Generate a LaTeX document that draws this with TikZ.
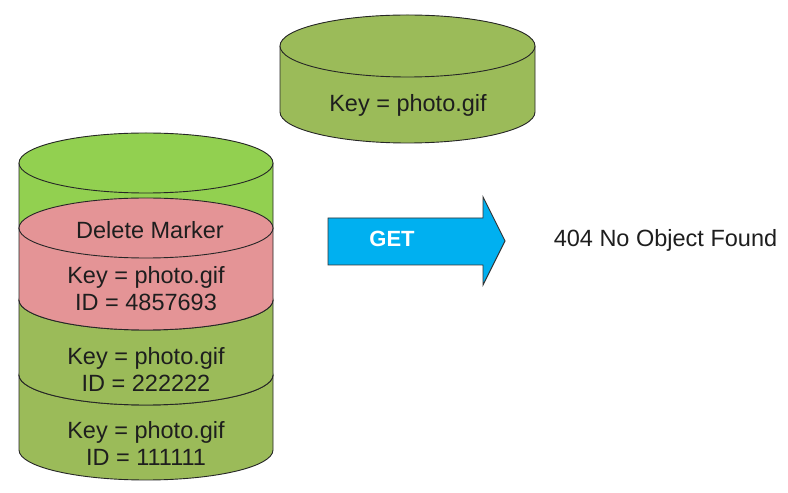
\documentclass[tikz,border=0pt]{standalone}
\usepackage{fontspec}
\setmainfont{Liberation Sans}
\definecolor{olive}{RGB}{155,187,89}
\definecolor{lgreen}{RGB}{146,208,80}
\definecolor{pinkr}{RGB}{228,148,150}
\definecolor{cyanb}{RGB}{0,176,240}
\definecolor{txt}{RGB}{30,30,30}
\tikzset{
  cyl/.style={draw=black!85, line width=0.9pt},
  lbl/.style={text=txt, font=\fontsize{23.5}{27}\selectfont, align=center, inner sep=0pt},
}
% \cylseg{fill}{cx}{topY}{botY}{rx}{ry}
\newcommand{\cylseg}[6]{%
  \fill[#1] (#2-#5,#3) -- (#2-#5,#4) arc[start angle=180,end angle=360,x radius=#5,y radius=#6] -- (#2+#5,#3) arc[start angle=0,end angle=180,x radius=#5,y radius=#6] -- cycle;
  \draw[cyl] (#2-#5,#3) -- (#2-#5,#4) arc[start angle=180,end angle=360,x radius=#5,y radius=#6] -- (#2+#5,#3);
  \draw[cyl,fill=#1] (#2,#3) ellipse[x radius=#5,y radius=#6];
}
\begin{document}
\begin{tikzpicture}[x=1pt,y=1pt]
\fill[white] (0,0) rectangle (788,493);
\useasboundingbox (0,0) rectangle (788,493);
% top cylinder
\cylseg{olive}{407.5}{447}{381}{127.5}{31}
\node[lbl] (top) at (408,388) {Key = photo.gif};
% stack
\cylseg{olive}{146}{118}{43}{127}{30}
\cylseg{olive}{146}{193}{118}{127}{30}
\cylseg{lgreen}{146}{330}{265}{127}{30}
\cylseg{pinkr}{146}{265}{193}{127}{30}
\node[lbl] (dm) at (150,263) {Delete Marker};
\node[lbl] (v3) at (146,204) {Key = photo.gif\\ID = 4857693};
\node[lbl] (v2) at (146,124) {Key = photo.gif\\ID = 222222};
\node[lbl] (v1) at (146,50) {Key = photo.gif\\ID = 111111};
% arrow
\draw[draw=black!80, line width=0.9pt, fill=cyanb, line join=miter]
  (328,275) -- (483,275) -- (483,296) -- (505,252) -- (483,208) -- (483,228) -- (328,228) -- cycle;
\node[text=white, font=\fontsize{22}{26}\selectfont\bfseries, inner sep=0pt] (get) at (392,254) {GET};
\node[lbl] (res) at (665.5,253) {404 No Object Found};
\end{tikzpicture}
\end{document}
